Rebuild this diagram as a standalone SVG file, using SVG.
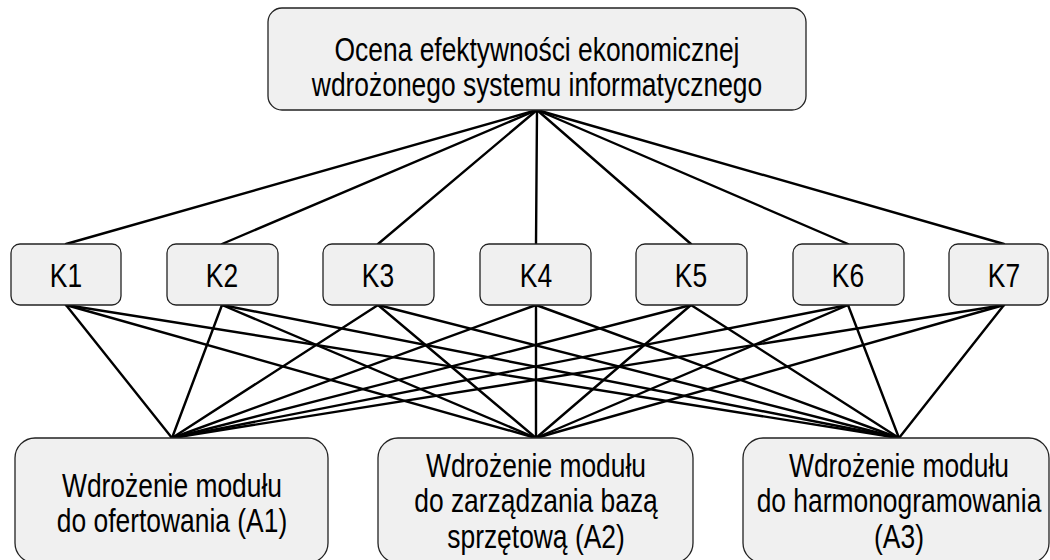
<svg xmlns="http://www.w3.org/2000/svg" width="1050" height="560" viewBox="0 0 1050 560">
  <style>
    .box { fill: #f0f0f0; stroke: #222; stroke-width: 1.3; }
    .lbl { font-family: "Liberation Sans", Arial, sans-serif; font-size: 33px; fill: #000; text-anchor: middle; }
    .edge { stroke: #000; stroke-width: 2.4; fill: none; stroke-linecap: round; }
  </style>
  <rect width="1050" height="560" fill="#fff"/>

  <!-- connectors: goal to criteria, criteria to alternatives -->
  <g id="connectors" class="edge">
    <line x1="537" y1="110" x2="66" y2="244"/>
    <line x1="537" y1="110" x2="222" y2="244"/>
    <line x1="537" y1="110" x2="378" y2="244"/>
    <line x1="537" y1="110" x2="536" y2="244"/>
    <line x1="537" y1="110" x2="691" y2="244"/>
    <line x1="537" y1="110" x2="848" y2="244"/>
    <line x1="537" y1="110" x2="1004" y2="244"/>

    <line x1="66" y1="305" x2="172" y2="438"/>
    <line x1="66" y1="305" x2="536" y2="438"/>
    <line x1="66" y1="305" x2="899" y2="438"/>
    <line x1="222" y1="305" x2="172" y2="438"/>
    <line x1="222" y1="305" x2="536" y2="438"/>
    <line x1="222" y1="305" x2="899" y2="438"/>
    <line x1="378" y1="305" x2="172" y2="438"/>
    <line x1="378" y1="305" x2="536" y2="438"/>
    <line x1="378" y1="305" x2="899" y2="438"/>
    <line x1="536" y1="305" x2="172" y2="438"/>
    <line x1="536" y1="305" x2="536" y2="438"/>
    <line x1="536" y1="305" x2="899" y2="438"/>
    <line x1="691" y1="305" x2="172" y2="438"/>
    <line x1="691" y1="305" x2="536" y2="438"/>
    <line x1="691" y1="305" x2="899" y2="438"/>
    <line x1="848" y1="305" x2="172" y2="438"/>
    <line x1="848" y1="305" x2="536" y2="438"/>
    <line x1="848" y1="305" x2="899" y2="438"/>
    <line x1="1004" y1="305" x2="172" y2="438"/>
    <line x1="1004" y1="305" x2="536" y2="438"/>
    <line x1="1004" y1="305" x2="899" y2="438"/>
  </g>

  <!-- goal -->
  <g id="goal">
    <rect class="box" x="268" y="8" width="538" height="102" rx="14"/>
    <text class="lbl" transform="matrix(0.8 0 0 1 537 0)" x="0" y="61">Ocena efektywności ekonomicznej</text>
    <text class="lbl" transform="matrix(0.8 0 0 1 537 0)" x="0" y="96">wdrożonego systemu informatycznego</text>
  </g>

  <!-- criteria -->
  <g id="k1">
    <rect class="box" x="11" y="244" width="110" height="61" rx="9"/>
    <text class="lbl" transform="matrix(0.8 0 0 1 66 0)" x="0" y="287">K1</text>
  </g>
  <g id="k2">
    <rect class="box" x="167" y="244" width="111" height="61" rx="9"/>
    <text class="lbl" transform="matrix(0.8 0 0 1 222 0)" x="0" y="287">K2</text>
  </g>
  <g id="k3">
    <rect class="box" x="323" y="244" width="111" height="61" rx="9"/>
    <text class="lbl" transform="matrix(0.8 0 0 1 378 0)" x="0" y="287">K3</text>
  </g>
  <g id="k4">
    <rect class="box" x="480" y="244" width="111" height="61" rx="9"/>
    <text class="lbl" transform="matrix(0.8 0 0 1 536 0)" x="0" y="287">K4</text>
  </g>
  <g id="k5">
    <rect class="box" x="636" y="244" width="111" height="61" rx="9"/>
    <text class="lbl" transform="matrix(0.8 0 0 1 691 0)" x="0" y="287">K5</text>
  </g>
  <g id="k6">
    <rect class="box" x="793" y="244" width="111" height="61" rx="9"/>
    <text class="lbl" transform="matrix(0.8 0 0 1 848 0)" x="0" y="287">K6</text>
  </g>
  <g id="k7">
    <rect class="box" x="949" y="244" width="99" height="61" rx="9"/>
    <text class="lbl" transform="matrix(0.8 0 0 1 1004 0)" x="0" y="287">K7</text>
  </g>

  <!-- alternatives -->
  <g id="a1">
    <rect class="box" x="15" y="438" width="313" height="125" rx="20"/>
    <text class="lbl" transform="matrix(0.8 0 0 1 172 0)" x="0" y="497">Wdrożenie modułu</text>
    <text class="lbl" transform="matrix(0.8 0 0 1 172 0)" x="0" y="532">do ofertowania (A1)</text>
  </g>
  <g id="a2">
    <rect class="box" x="378" y="438" width="315" height="125" rx="20"/>
    <text class="lbl" transform="matrix(0.8 0 0 1 536 0)" x="0" y="477">Wdrożenie modułu</text>
    <text class="lbl" transform="matrix(0.8 0 0 1 536 0)" x="0" y="512">do zarządzania bazą</text>
    <text class="lbl" transform="matrix(0.8 0 0 1 536 0)" x="0" y="548">sprzętową (A2)</text>
  </g>
  <g id="a3">
    <rect class="box" x="743" y="438" width="306" height="125" rx="20"/>
    <text class="lbl" transform="matrix(0.8 0 0 1 899 0)" x="0" y="477">Wdrożenie modułu</text>
    <text class="lbl" transform="matrix(0.8 0 0 1 899 0)" x="0" y="512">do harmonogramowania</text>
    <text class="lbl" transform="matrix(0.8 0 0 1 899 0)" x="0" y="548">(A3)</text>
  </g>
</svg>
